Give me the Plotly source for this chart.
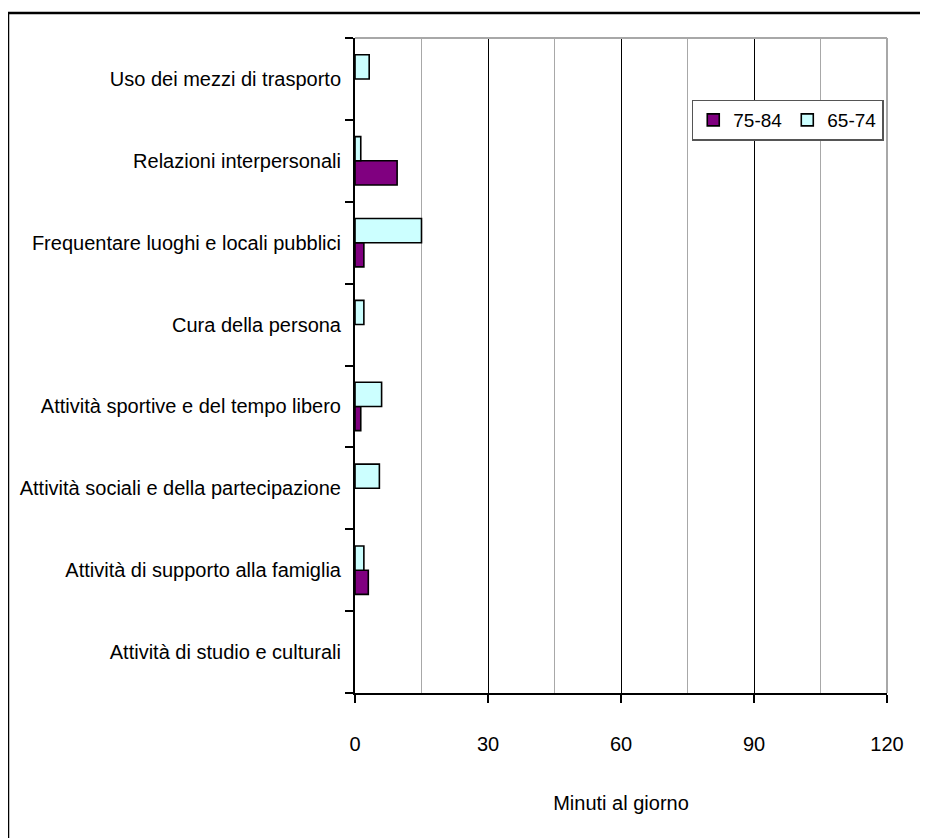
import plotly.graph_objects as go

# Categories listed bottom-to-top
categories = [
    "Attività di studio e culturali",
    "Attività di supporto alla famiglia",
    "Attività sociali e della partecipazione",
    "Attività sportive e del tempo libero",
    "Cura della persona",
    "Frequentare luoghi e locali pubblici",
    "Relazioni interpersonali",
    "Uso dei mezzi di trasporto",
]
values_75_84 = [None, 3, None, 1.3, None, 2, 9.5, None]
values_65_74 = [None, 2, 5.5, 6, 2, 15, 1.3, 3.2]
x_ticks = [0, 30, 60, 90, 120]

FONT = "Liberation Sans Narrow, Arial Narrow, Liberation Sans, Arial, sans-serif"

W, H = 920, 830
L, R, T, B = 347, 41, 30, 145
PW, PH = W - L - R, H - T - B

fig = go.Figure()
fig.add_trace(go.Bar(
    y=categories, x=values_75_84, orientation="h", name="75-84",
    marker=dict(color="#800080", line=dict(color="black", width=1.6)),
))
fig.add_trace(go.Bar(
    y=categories, x=values_65_74, orientation="h", name="65-74",
    marker=dict(color="#CCFFFF", line=dict(color="black", width=1.6)),
))

fig.update_layout(
    width=W, height=H,
    margin=dict(l=L, r=R, t=T, b=B),
    paper_bgcolor="white", plot_bgcolor="white",
    barmode="group", bargap=0.41, bargroupgap=0,
    font=dict(family=FONT, size=20, color="black"),
    showlegend=True,
    legend=dict(
        orientation="h", x=0.633, y=(693 - 120) / 655, xanchor="left", yanchor="middle",
        bordercolor="#555555", borderwidth=1.5, bgcolor="white",
        font=dict(family=FONT, size=19), itemwidth=30,
        traceorder="normal", tracegroupgap=0,
    ),
)

fig.update_xaxes(
    range=[0, 120], tickvals=x_ticks, ticktext=[str(v) for v in x_ticks],
    showgrid=True, gridcolor="black", gridwidth=1.3,
    minor=dict(dtick=15, showgrid=True, gridcolor="#a8a8a8", gridwidth=1.3),
    showline=True, linecolor="black", linewidth=2,
    ticks="outside", ticklen=8, tickwidth=2, tickcolor="black",
    ticklabelstandoff=24,
    zeroline=False,
    title=dict(text="Minuti al giorno", font=dict(family=FONT, size=20), standoff=42),
    tickfont=dict(family=FONT, size=20),
)
fig.update_yaxes(
    showline=True, linecolor="black", linewidth=2,
    ticks="outside", ticklen=8, tickwidth=2, tickcolor="black",
    tickson="boundaries", showgrid=False,
    tickfont=dict(family=FONT, size=20),
    ticklabelstandoff=8,
)

# plot-area top and right borders (gray)
fig.add_shape(type="line", xref="paper", yref="paper", x0=0, x1=1, y0=1, y1=1,
              line=dict(color="#a8a8a8", width=2))
fig.add_shape(type="line", xref="paper", yref="paper", x0=1, x1=1, y0=0, y1=1,
              line=dict(color="#a8a8a8", width=2))
# outer chart frame (top and left)
ytop = (PH + T - 5) / PH
xleft = -L / PW
fig.add_shape(type="line", xref="paper", yref="paper",
              x0=xleft, x1=(W - L) / PW, y0=ytop, y1=ytop,
              line=dict(color="black", width=2.5))
fig.add_shape(type="line", xref="paper", yref="paper",
              x0=xleft, x1=xleft, y0=ytop, y1=-B / PH,
              line=dict(color="black", width=2.5))

fig.write_html("out.html")
